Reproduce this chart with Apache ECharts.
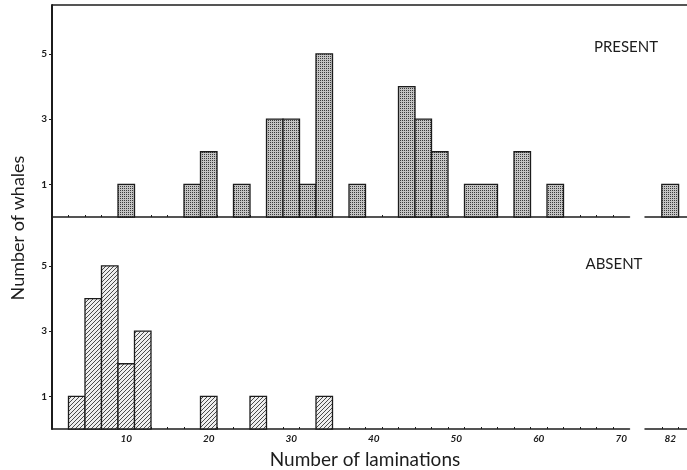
<!DOCTYPE html>
<html>
<head>
<meta charset="utf-8">
<script src="https://cdn.jsdelivr.net/npm/echarts@6/dist/echarts.min.js"></script>
<style>
html,body{margin:0;padding:0;background:#fff;}
#chart{width:687px;height:470px;}
</style>
</head>
<body>
<div id="chart"></div>
<script>
// ---- Data (bins of laminations, count of whales) ----
const presentLo    = [9, 17, 19, 23, 27, 29, 31, 33, 37, 43, 45, 47, 51, 57, 61];
const presentHi    = [11, 19, 21, 25, 29, 31, 33, 35, 39, 45, 47, 49, 55, 59, 63];
const presentCount = [1, 1, 2, 1, 3, 3, 1, 5, 1, 4, 3, 2, 1, 2, 1];
// beyond the axis break
const presentTailLo    = [81];
const presentTailHi    = [83];
const presentTailCount = [1];

const absentLo    = [3, 5, 7, 9, 11, 19, 25, 33];
const absentHi    = [5, 7, 9, 11, 13, 21, 27, 35];
const absentCount = [1, 4, 5, 2, 3, 1, 1, 1];

const xLabelsMain = [10, 20, 30, 40, 50, 60, 70];
const xLabelsTail = [82];
const xTicksMain  = [3,5,7,9,11,13,15,17,19,21,23,25,27,29,31,33,35,37,39,41,43,45,47,49,51,53,55,57,59,61,63,65,67,69];
const xTicksTail  = [81, 83];
const yLabels     = [1, 3, 5];
const yTicks      = [1, 3, 5];

const FONT = 'Lato, "DejaVu Sans", sans-serif';
const INK = '#1c1c1c';

function zip(lo, hi, n) { return lo.map((v, i) => [v, hi[i], n[i]]); }

function makeStipple() {
  const c = document.createElement('canvas');
  c.width = 2; c.height = 2;
  const g = c.getContext('2d');
  g.fillStyle = '#c4c4c4'; g.fillRect(0, 0, 2, 2);
  g.fillStyle = '#3c3c3c'; g.fillRect(0, 0, 1, 1);
  return c;
}
function makeHatch() {
  const c = document.createElement('canvas');
  c.width = 4; c.height = 4;
  const g = c.getContext('2d');
  g.fillStyle = '#eeeeee'; g.fillRect(0, 0, 4, 4);
  g.strokeStyle = '#4a4a4a'; g.lineWidth = 1;
  g.beginPath();
  g.moveTo(-1, 5); g.lineTo(5, -1);
  g.moveTo(3, 5); g.lineTo(5, 3);
  g.moveTo(-1, 1); g.lineTo(1, -1);
  g.stroke();
  return c;
}
const stipple = { image: makeStipple(), repeat: 'repeat' };
const hatch = { image: makeHatch(), repeat: 'repeat' };

function barRenderer(fill) {
  return function (params, api) {
    const lo = api.value(0), hi = api.value(1), n = api.value(2);
    const p0 = api.coord([lo, n]);
    const p1 = api.coord([hi, 0]);
    return {
      type: 'rect',
      shape: { x: p0[0], y: p0[1], width: p1[0] - p0[0], height: p1[1] - p0[1] },
      style: { fill: fill, stroke: INK, lineWidth: 1.3 }
    };
  };
}

const chart = echarts.init(document.getElementById('chart'), null, { renderer: 'canvas' });

const mainLeft = 52, mainWidth = 577.5, tailLeft = 645, tailWidth = 42;
const topTop = 5, panelH = 212, botTop = 217;

function xAxisDef(gridIndex, min, max, ticks, labels) {
  return {
    type: 'value', gridIndex: gridIndex, min: min, max: max,
    axisLine: { show: true, onZero: false, lineStyle: { color: INK, width: 1.5 } },
    axisTick: { show: true, inside: true, length: 2, customValues: ticks, lineStyle: { color: INK, width: 1 } },
    axisLabel: labels ? { show: true, customValues: labels, margin: 5, color: INK, fontSize: 10,
      fontWeight: 'bold', fontStyle: 'italic', fontFamily: FONT } : { show: false },
    splitLine: { show: false }
  };
}
function yAxisDef(gridIndex, show) {
  return {
    type: 'value', gridIndex: gridIndex, min: 0, max: 6.5,
    axisLine: { show: show, onZero: false, lineStyle: { color: INK, width: 2 } },
    axisTick: { show: show, inside: false, length: 3, customValues: yTicks, lineStyle: { color: INK, width: 1 } },
    axisLabel: { show: show, customValues: yLabels, margin: 5, color: INK, fontSize: 10,
      fontWeight: 'bold', fontFamily: FONT },
    splitLine: { show: false }
  };
}

const option = {
  backgroundColor: '#ffffff',
  animation: false,
  grid: [
    { left: mainLeft, top: topTop, width: mainWidth, height: panelH },
    { left: tailLeft, top: topTop, width: tailWidth, height: panelH },
    { left: mainLeft, top: botTop, width: mainWidth, height: panelH },
    { left: tailLeft, top: botTop, width: tailWidth, height: panelH }
  ],
  xAxis: [
    xAxisDef(0, 1, 71, xTicksMain, null),
    xAxisDef(1, 79, 84, xTicksTail, null),
    xAxisDef(2, 1, 71, xTicksMain, xLabelsMain),
    xAxisDef(3, 79, 84, xTicksTail, xLabelsTail)
  ],
  yAxis: [
    yAxisDef(0, true),
    yAxisDef(1, false),
    yAxisDef(2, true),
    yAxisDef(3, false)
  ],
  series: [
    { type: 'custom', name: 'PRESENT', xAxisIndex: 0, yAxisIndex: 0,
      renderItem: barRenderer(stipple), data: zip(presentLo, presentHi, presentCount),
      encode: { x: [0, 1], y: 2 } },
    { type: 'custom', name: 'PRESENT', xAxisIndex: 1, yAxisIndex: 1,
      renderItem: barRenderer(stipple), data: zip(presentTailLo, presentTailHi, presentTailCount),
      encode: { x: [0, 1], y: 2 } },
    { type: 'custom', name: 'ABSENT', xAxisIndex: 2, yAxisIndex: 2,
      renderItem: barRenderer(hatch), data: zip(absentLo, absentHi, absentCount),
      encode: { x: [0, 1], y: 2 } }
  ],
  graphic: [
    { type: 'line', silent: true, shape: { x1: mainLeft, y1: topTop, x2: 687, y2: topTop },
      style: { stroke: INK, lineWidth: 1.5 } },
    { type: 'text', x: 626, y: 47, silent: true,
      style: { text: 'PRESENT', font: '15px ' + FONT, fill: INK, textAlign: 'center', textVerticalAlign: 'middle' } },
    { type: 'text', x: 614, y: 264, silent: true,
      style: { text: 'ABSENT', font: '15px ' + FONT, fill: INK, textAlign: 'center', textVerticalAlign: 'middle' } },
    { type: 'text', x: 365, y: 460, silent: true,
      style: { text: 'Number of laminations', font: '19px ' + FONT, fill: INK, textAlign: 'center', textVerticalAlign: 'middle' } },
    { type: 'text', x: 18, y: 228, rotation: Math.PI / 2, silent: true,
      style: { text: 'Number of whales', font: '18px ' + FONT, fill: INK, textAlign: 'center', textVerticalAlign: 'middle' } }
  ]
};
chart.setOption(option);
</script>
</body>
</html>
